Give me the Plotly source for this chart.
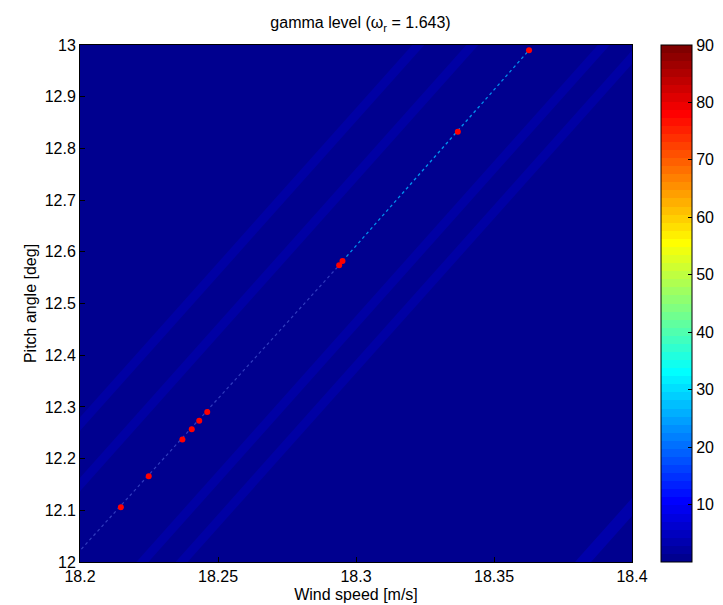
import plotly.graph_objects as go

# ---- data ----
x_range = [18.2, 18.4]
y_range = [12.0, 13.0]
x_ticks = [18.2, 18.25, 18.3, 18.35, 18.4]
x_ticktext = ["18.2", "18.25", "18.3", "18.35", "18.4"]
y_ticks = [12, 12.1, 12.2, 12.3, 12.4, 12.5, 12.6, 12.7, 12.8, 12.9, 13]
y_ticktext = ["12", "12.1", "12.2", "12.3", "12.4", "12.5", "12.6", "12.7", "12.8", "12.9", "13"]
cbar_ticks = [10, 20, 30, 40, 50, 60, 70, 80, 90]
c_min, c_max = 0.0, 90.0
bg_level = 0.5  # gamma level of the (almost uniform) background

# red markers (wind speed, pitch angle)
pts_wind = [18.2148, 18.2249, 18.2371, 18.2405, 18.2432, 18.2461, 18.2939, 18.2951, 18.3369, 18.3627]
pts_pitch = [12.106, 12.166, 12.237, 12.257, 12.273, 12.290, 12.574, 12.582, 12.832, 12.990]

# faint diagonal ridge of the gamma field (dotted line): lower and upper part
ridge_lo_wind = [18.2005, 18.2939]
ridge_lo_pitch = [12.025, 12.574]
ridge_hi_wind = [18.2951, 18.3627]
ridge_hi_pitch = [12.582, 12.990]

# faint diagonal bands: endpoints (wind, pitch)
band_w0 = [18.19, 18.19, 18.19, 18.19, 18.19]
band_p0 = [12.207, 12.090, 11.805, 11.720, 10.850]
band_w1 = [18.41, 18.41, 18.41, 18.41, 18.41]
band_p1 = [13.523, 13.406, 13.121, 13.036, 12.166]
band_color = ["#0000A4", "#0000A4", "#0000A4", "#0000A4", "#0000AA"]
band_width = [9, 9, 9, 9, 12]

# ---- MATLAB jet(64) colormap ----
def jet(i, n=64):
    t = (i + 1) / n
    c = lambda v: max(0.0, min(1.0, v))
    r = c(1.5 - abs(4 * t - 3))
    g = c(1.5 - abs(4 * t - 2))
    b = c(1.5 - abs(4 * t - 1))
    return "rgb(%d,%d,%d)" % (round(r * 255), round(g * 255), round(b * 255))

cs = []
for i in range(64):
    cs.append([i / 64, jet(i)])
    cs.append([(i + 1) / 64, jet(i)])

font = "Liberation Sans, Arial, sans-serif"
L, R, T, B = 72, 90, 37, 51
plot_w = 723 - L - R

fig = go.Figure()
fig.add_trace(go.Heatmap(
    x=x_range, y=y_range, z=[[bg_level, bg_level], [bg_level, bg_level]],
    colorscale=cs, zmin=c_min, zmax=c_max, hoverinfo="skip",
    colorbar=dict(
        x=(662 - L) / plot_w, xanchor="left", xpad=0, ypad=0, y=0.5, yanchor="middle",
        len=1, lenmode="fraction", thickness=31, thicknessmode="pixels",
        outlinewidth=1, outlinecolor="black",
        tickvals=cbar_ticks, ticks="inside", ticklen=4, tickcolor="black",
        tickfont=dict(family=font, size=16, color="black"),
    ),
))

for w0, p0, w1, p1, col, wd in zip(band_w0, band_p0, band_w1, band_p1, band_color, band_width):
    fig.add_trace(go.Scatter(x=[w0, w1], y=[p0, p1], mode="lines",
                             line=dict(color=col, width=wd), hoverinfo="skip", showlegend=False))

fig.add_trace(go.Scatter(x=ridge_lo_wind, y=ridge_lo_pitch, mode="lines",
                         line=dict(color="rgba(90,110,230,0.55)", width=1.2, dash="dot"),
                         hoverinfo="skip", showlegend=False))
fig.add_trace(go.Scatter(x=ridge_hi_wind, y=ridge_hi_pitch, mode="lines",
                         line=dict(color="rgba(0,170,255,0.85)", width=1.3, dash="dot"),
                         hoverinfo="skip", showlegend=False))

fig.add_trace(go.Scatter(x=pts_wind, y=pts_pitch, mode="markers",
                         marker=dict(color="#FF0000", size=6, line=dict(width=0)),
                         showlegend=False))

axis_common = dict(ticks="inside", ticklen=5, tickcolor="black", showgrid=False, zeroline=False,
                   showline=True, mirror=True, linecolor="black", linewidth=1,
                   layer="above traces", tickfont=dict(family=font, size=16, color="black"))

fig.update_layout(
    width=723, height=605,
    margin=dict(l=L, r=R, t=T, b=B),
    paper_bgcolor="white", plot_bgcolor="white",
    showlegend=False,
    font=dict(family=font, size=16, color="black"),
    title=dict(text="gamma level (ω<sub>r</sub> = 1.643)", x=(L + 723 - R) / 2 / 723, xanchor="center",
               y=0.985, yanchor="top", font=dict(family=font, size=16, color="black")),
    xaxis=dict(range=x_range, tickvals=x_ticks, ticktext=x_ticktext,
               title=dict(text="Wind speed [m/s]", standoff=4, font=dict(family=font, size=16)),
               **axis_common),
    yaxis=dict(range=y_range, tickvals=y_ticks, ticktext=y_ticktext,
               title=dict(text="Pitch angle [deg]", standoff=4, font=dict(family=font, size=16)),
               **axis_common),
)

fig.write_html("out.html")
